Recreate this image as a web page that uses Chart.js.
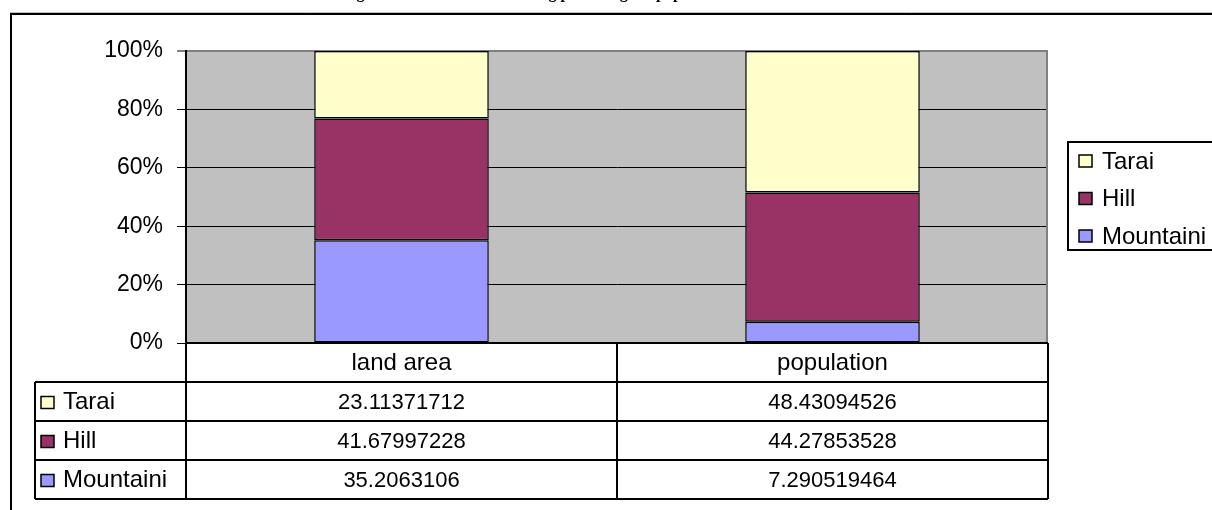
<!DOCTYPE html>
<html>
<head>
<meta charset="utf-8">
<script src="https://cdn.jsdelivr.net/npm/chart.js@4.4.1/dist/chart.umd.min.js"></script>
<style>
    html, body { margin: 0; padding: 0; background: #fff; }
    #wrap { width: 1212px; height: 510px; }
</style>
</head>
<body>
<div id="wrap"><canvas id="myChart" width="1212" height="510"></canvas></div>
<script>
const chartTitle = 'Fig: Stacked bar chart showing percentage of population and land area';
const categories = ['land area', 'population'];
const seriesNames = ['Mountaini', 'Hill', 'Tarai'];
const mountainiValues = [35.2063106, 7.290519464];
const hillValues = [41.67997228, 44.27853528];
const taraiValues = [23.11371712, 48.43094526];
const yTicks = [0, 20, 40, 60, 80, 100];

const colors = ['#9999ff', '#993366', '#ffffcc'];
const FONT = 'Arial, "Liberation Sans", sans-serif';
const LABEL_FONT = '24px ' + FONT;
const NUM_FONT = '22px ' + FONT;

// grey plot background, data table, legend box and outer frame
const excelLook = {
    id: 'excelLook',
    beforeDraw(chart) {
        const { ctx, chartArea: a } = chart;
        ctx.save();
        ctx.fillStyle = '#c0c0c0';
        ctx.fillRect(a.left, a.top, a.right - a.left, a.bottom - a.top);
        ctx.restore();
    },
    afterDraw(chart) {
        const { ctx, chartArea: a } = chart;
        const x = chart.scales.x;
        const sets = chart.data.datasets;
        ctx.save();

        // plot border (grey right edge)
        ctx.strokeStyle = '#808080';
        ctx.lineWidth = 2;
        ctx.beginPath();
        ctx.moveTo(a.right - 1, a.top);
        ctx.lineTo(a.right - 1, a.bottom);
        ctx.stroke();

        // data table
        const rowH = 39;
        const headTop = a.bottom;
        const bodyTop = headTop + rowH;
        const tableLeft = 35;
        const rows = sets.slice().reverse();
        const bodyBottom = bodyTop + rowH * rows.length;
        const bounds = [a.left];
        for (let i = 0; i < categories.length - 1; i++) {
            bounds.push((x.getPixelForValue(i) + x.getPixelForValue(i + 1)) / 2);
        }
        bounds.push(a.right);

        ctx.strokeStyle = '#000';
        ctx.lineWidth = 2;
        ctx.beginPath();
        ctx.moveTo(a.left, headTop); ctx.lineTo(a.right, headTop);
        for (let r = 0; r <= rows.length; r++) {
            const y = bodyTop + r * rowH;
            ctx.moveTo(tableLeft, y); ctx.lineTo(a.right, y);
        }
        ctx.moveTo(tableLeft, bodyTop); ctx.lineTo(tableLeft, bodyBottom);
        bounds.forEach(bx => { ctx.moveTo(bx, headTop); ctx.lineTo(bx, bodyBottom); });
        ctx.stroke();

        ctx.fillStyle = '#000';
        ctx.font = LABEL_FONT;
        ctx.textBaseline = 'middle';
        ctx.textAlign = 'center';
        categories.forEach((c, i) => {
            ctx.fillText(c, x.getPixelForValue(i), headTop + rowH / 2 + 1);
        });
        rows.forEach((ds, r) => {
            const cy = bodyTop + r * rowH + rowH / 2 + 1;
            ctx.textAlign = 'center';
            ctx.fillStyle = '#000';
            ctx.font = NUM_FONT;
            ds.data.forEach((v, i) => ctx.fillText(String(v), x.getPixelForValue(i), cy));
            drawKey(ctx, 41, cy, ds.backgroundColor);
            ctx.textAlign = 'left';
            ctx.fillStyle = '#000';
            ctx.font = LABEL_FONT;
            ctx.fillText(ds.label, 63, cy);
        });

        // legend box
        ctx.strokeStyle = '#000';
        ctx.lineWidth = 2;
        ctx.strokeRect(1068, 142, 200, 108);
        rows.forEach((ds, r) => {
            const cy = 161 + r * 37.5;
            drawKey(ctx, 1079, cy, ds.backgroundColor);
            ctx.textAlign = 'left';
            ctx.fillStyle = '#000';
            ctx.font = LABEL_FONT;
            ctx.fillText(ds.label, 1102, cy + 1);
        });

        // outer frame
        ctx.strokeStyle = '#c0c0c0';
        ctx.lineWidth = 1;
        ctx.beginPath();
        ctx.moveTo(10, 12.5); ctx.lineTo(1212, 12.5);
        ctx.stroke();
        ctx.strokeStyle = '#000';
        ctx.lineWidth = 2;
        ctx.beginPath();
        ctx.moveTo(1212, 14); ctx.lineTo(11, 14); ctx.lineTo(11, 510);
        ctx.stroke();

        // title, mostly clipped by the top edge
        ctx.font = 'bold 16px "Times New Roman", "Liberation Serif", serif';
        ctx.textAlign = 'center';
        ctx.textBaseline = 'alphabetic';
        ctx.fillText(chartTitle, 585, -2);

        ctx.restore();
    }
};

function drawKey(ctx, left, cy, color) {
    ctx.fillStyle = color;
    ctx.fillRect(left, cy - 6, 13, 12);
    ctx.strokeStyle = '#000';
    ctx.lineWidth = 1.5;
    ctx.strokeRect(left, cy - 6, 13, 12);
}

const ctx = document.getElementById('myChart').getContext('2d');
new Chart(ctx, {
    type: 'bar',
    data: {
        labels: categories,
        datasets: [
            { label: seriesNames[0], data: mountainiValues, backgroundColor: colors[0] },
            { label: seriesNames[1], data: hillValues, backgroundColor: colors[1] },
            { label: seriesNames[2], data: taraiValues, backgroundColor: colors[2] }
        ].map(d => Object.assign(d, {
            borderColor: '#000',
            borderWidth: 1.5,
            borderSkipped: false,
            categoryPercentage: 1,
            barPercentage: 0.405
        }))
    },
    options: {
        responsive: false,
        animation: false,
        layout: { padding: { top: 51, right: 164, bottom: 167, left: 0 } },
        plugins: {
            legend: { display: false },
            title: { display: false },
            tooltip: { enabled: false }
        },
        scales: {
            x: {
                stacked: true,
                display: false
            },
            y: {
                stacked: true,
                min: 0,
                max: 100,
                afterFit: s => { s.width = 186; },
                afterBuildTicks: s => { s.ticks = yTicks.map(v => ({ value: v })); },
                border: { display: true, color: '#000', width: 2 },
                grid: {
                    color: c => (c.tick && c.tick.value === 100) ? '#808080' : '#000',
                    lineWidth: c => (c.tick && c.tick.value === 100) ? 2 : 1,
                    tickLength: 9
                },
                ticks: {
                    padding: 14,
                    color: '#000',
                    font: { family: FONT, size: 23 },
                    callback: v => v + '%'
                }
            }
        }
    },
    plugins: [excelLook]
});
</script>
</body>
</html>
